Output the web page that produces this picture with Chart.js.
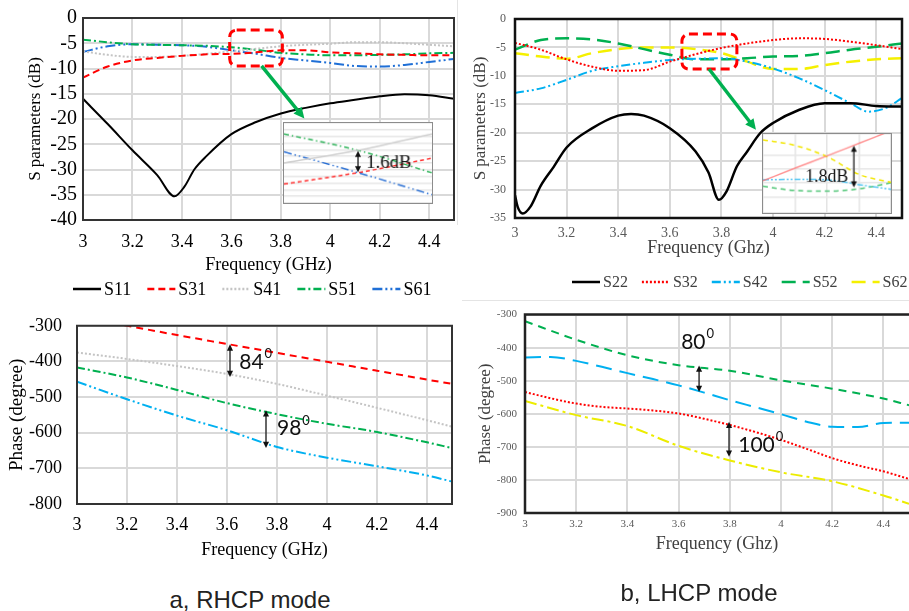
<!DOCTYPE html>
<html>
<head>
<meta charset="utf-8">
<script src="https://cdn.jsdelivr.net/npm/chart.js@4.4.0/dist/chart.umd.min.js"></script>
<style>
  body { margin: 0; background: #fff; width: 909px; height: 611px; position: relative; overflow: hidden; }
  canvas { position: absolute; }
  .inset { background: #fff; border: 1px solid #8c8c8c; }
  .cap { position: absolute; font-family: "Liberation Sans", Arial, sans-serif; font-size: 24px; color: #222;
         transform: translate(-50%, -50%); white-space: nowrap; }
  .sep { position: absolute; background: #e4e4e4; }
</style>
</head>
<body>
<div class="sep" style="left:457px;top:0;width:1px;height:225px"></div>
<div class="sep" style="left:462px;top:300px;width:447px;height:1px"></div>
<canvas id="tl" width="455" height="300" style="left:0;top:0"></canvas>
<canvas id="tr" width="453" height="300" style="left:456px;top:0"></canvas>
<canvas id="bl" width="455" height="280" style="left:0;top:300px"></canvas>
<canvas id="br" width="453" height="280" style="left:456px;top:300px"></canvas>
<canvas id="tlInset" class="inset" width="150" height="82" style="left:283px;top:122px"></canvas>
<canvas id="trInset" class="inset" width="130" height="81" style="left:762px;top:133px"></canvas>
<div class="cap" style="left:250px;top:600px">a, RHCP mode</div>
<div class="cap" style="left:699px;top:593px">b, LHCP mode</div>
<script>
const serif = '"Liberation Serif", "Times New Roman", serif';

// ---------- data ----------
const freq = [3.0, 3.1, 3.2, 3.3, 3.4, 3.5, 3.6, 3.7, 3.8, 3.9, 4.0, 4.1, 4.2, 4.3, 4.4, 4.5];
const freqTicks = [3, 3.2, 3.4, 3.6, 3.8, 4, 4.2, 4.4];

// RHCP, S parameters (dB)
const s11Freq = [3.0, 3.1, 3.2, 3.3, 3.37, 3.41, 3.45, 3.5, 3.6, 3.7, 3.8, 3.9, 4.0, 4.1, 4.2, 4.3, 4.4, 4.5];
const s11 = [-16.0, -21.0, -26.2, -31.1, -35.3, -33.4, -30.0, -27.3, -23.0, -20.6, -18.9, -17.8, -16.9, -16.2, -15.5, -15.1, -15.3, -16.0];
const s31 = [-11.8, -9.6, -8.4, -7.9, -7.5, -7.2, -7.1, -6.8, -6.4, -6.4, -6.8, -7.0, -7.2, -7.3, -7.4, -7.4];
const s41 = [-6.6, -7.3, -7.7, -7.7, -7.5, -7.1, -6.6, -6.1, -5.6, -5.3, -5.1, -4.8, -4.8, -5.0, -5.3, -5.6];
const s51 = [-4.3, -4.8, -5.2, -5.3, -5.4, -5.5, -5.8, -6.3, -6.9, -7.2, -7.4, -7.4, -7.3, -7.2, -7.0, -6.9];
const s61 = [-6.7, -5.6, -5.2, -5.3, -5.4, -5.7, -6.4, -7.1, -7.9, -8.4, -8.9, -9.5, -9.6, -9.3, -8.7, -8.1];
const dbTicksA = [-40, -35, -30, -25, -20, -15, -10, -5, 0];

// LHCP, S parameters (dB)
const s22Freq = [3.0, 3.01, 3.03, 3.06, 3.1, 3.15, 3.2, 3.3, 3.4, 3.45, 3.5, 3.6, 3.7, 3.75, 3.79, 3.82, 3.86, 3.9, 3.95, 4.0, 4.1, 4.2, 4.3, 4.4, 4.5];
const s22 = [-31.0, -33.0, -34.2, -33.0, -29.3, -26.0, -22.6, -19.2, -17.0, -16.7, -17.0, -19.2, -23.3, -27.0, -31.8, -30.3, -25.9, -23.3, -20.1, -18.3, -16.0, -14.8, -14.8, -15.3, -15.4];
const s32 = [-4.2, -5.4, -7.1, -8.4, -9.1, -9.0, -7.5, -6.2, -5.1, -4.3, -3.7, -3.4, -3.5, -4.0, -4.6, -5.3];
const s42Freq = [3.0, 3.1, 3.2, 3.3, 3.4, 3.5, 3.6, 3.7, 3.8, 3.9, 4.0, 4.1, 4.2, 4.3, 4.37, 4.44, 4.5];
const s42 = [-13.0, -12.2, -10.7, -9.1, -8.3, -7.7, -7.2, -7.0, -6.9, -7.5, -8.7, -10.4, -12.5, -14.8, -16.3, -15.6, -13.9];
const s52 = [-5.4, -3.7, -3.4, -3.6, -4.3, -5.3, -6.3, -7.1, -7.1, -6.9, -6.6, -6.5, -6.0, -5.4, -4.9, -4.3];
const s62 = [-6.0, -6.6, -7.0, -6.0, -5.3, -5.0, -5.0, -5.3, -6.0, -7.5, -8.8, -8.8, -8.1, -7.5, -7.1, -6.9];
const dbTicksB = [-35, -30, -25, -20, -15, -10, -5, 0];

// RHCP, phase (degree)
const phFreq = [3.0, 3.2, 3.4, 3.6, 3.8, 4.0, 4.2, 4.4, 4.5];
const p31 = [-278, -300, -326, -351, -376, -401, -426, -451, -463];
const p41 = [-375, -393, -413, -435, -463, -496, -530, -565, -583];
const p51 = [-417, -445, -480, -517, -548, -575, -598, -627, -643];
const p61 = [-457, -506, -552, -593, -640, -670, -694, -720, -737];
const phTicksA = [-800, -700, -600, -500, -400, -300];

// LHCP, phase (degree)
const p52 = [-320, -376, -423, -453, -470, -499, -524, -554, -574];
const p42 = [-430, -428, -440, -458, -477, -495, -514, -536, -559, -580, -601, -624, -639, -640, -628, -627];
const p32 = [-534, -553, -569, -579, -584, -590, -599, -615, -634, -655, -679, -706, -734, -756, -774, -797];
const p62 = [-561, -604, -637, -697, -741, -777, -804, -847, -872];
const phTicksB = [-900, -800, -700, -600, -500, -400, -300];

// zoomed insets (dB)
const insetAFreq = [3.6, 3.7, 3.8];
const insetA41 = [-7.0, -6.05, -4.82];
const insetA51 = [-4.82, -6.05, -7.73];
const insetA61 = [-6.16, -7.72, -9.38];
const insetA31 = [-8.58, -7.72, -6.64];
const insetBFreq = [3.7, 3.75, 3.8, 3.85, 3.9];
const insetB32 = [-6.51, -5.97, -5.44, -4.90, -4.36];
const insetB62 = [-4.75, -4.99, -5.47, -6.24, -6.58];
const insetB42 = [-6.47, -6.45, -6.47, -6.68, -6.88];
const insetB52 = [-6.75, -6.93, -6.96, -6.86, -6.60];

// ---------- helpers ----------
function pts(xs, ys) { return xs.map((x, i) => ({ x: x, y: ys[i] })); }

function series(label, xs, ys, color, dash, width) {
  return { label: label, data: pts(xs, ys), borderColor: color, borderDash: dash, borderWidth: width || 2,
    pointRadius: 0, fill: false, cubicInterpolationMode: 'monotone' };
}

function tickList(list) {
  return scale => { scale.ticks = list.map(v => ({ value: v })); };
}

function head(ctx, x1, y1, x2, y2, size) {
  const a = Math.atan2(y2 - y1, x2 - x1);
  ctx.beginPath();
  ctx.moveTo(x2, y2);
  ctx.lineTo(x2 - size * Math.cos(a - 0.45), y2 - size * Math.sin(a - 0.45));
  ctx.lineTo(x2 - size * Math.cos(a + 0.45), y2 - size * Math.sin(a + 0.45));
  ctx.closePath();
  ctx.fill();
}

// frame, callouts, arrows and legend row; callouts are placed from data coords
function notes(cfg) {
  return {
    id: 'notes',
    afterDatasetsDraw(chart) {
      const { ctx, chartArea: a } = chart;
      if (!cfg.frame) return;
      ctx.save();
      ctx.strokeStyle = cfg.frame.color;
      ctx.lineWidth = cfg.frame.width;
      ctx.beginPath();
      if (cfg.frame.open) {
        ctx.moveTo(a.right + 2, a.top); ctx.lineTo(a.left, a.top);
        ctx.lineTo(a.left, a.bottom); ctx.lineTo(a.right + 2, a.bottom);
      } else {
        ctx.rect(a.left, a.top, a.right - a.left, a.bottom - a.top);
      }
      ctx.stroke();
      ctx.restore();
    },
    afterDraw(chart) {
      const { ctx, scales: { x, y } } = chart;
      ctx.save();
      (cfg.boxes || []).forEach(b => {
        const l = x.getPixelForValue(b.x1), r = x.getPixelForValue(b.x2);
        const t = y.getPixelForValue(b.y1), btm = y.getPixelForValue(b.y2), rad = 7;
        ctx.strokeStyle = '#ff0000'; ctx.lineWidth = 3; ctx.setLineDash([9, 5]);
        ctx.beginPath();
        ctx.moveTo(l + rad, t); ctx.arcTo(r, t, r, btm, rad); ctx.arcTo(r, btm, l, btm, rad);
        ctx.arcTo(l, btm, l, t, rad); ctx.arcTo(l, t, r, t, rad); ctx.closePath();
        ctx.stroke();
        ctx.setLineDash([]);
      });
      (cfg.pointers || []).forEach(p => {
        const x1 = x.getPixelForValue(p.x1), y1 = y.getPixelForValue(p.y1);
        const x2 = x.getPixelForValue(p.x2), y2 = y.getPixelForValue(p.y2);
        ctx.strokeStyle = '#00b050'; ctx.fillStyle = '#00b050'; ctx.lineWidth = 3.5;
        const a = Math.atan2(y2 - y1, x2 - x1);
        ctx.beginPath(); ctx.moveTo(x1, y1); ctx.lineTo(x2 - 8 * Math.cos(a), y2 - 8 * Math.sin(a)); ctx.stroke();
        head(ctx, x1, y1, x2, y2, 12);
      });
      (cfg.arrows || []).forEach(r => {
        const px = x.getPixelForValue(r.x), y1 = y.getPixelForValue(r.y1), y2 = y.getPixelForValue(r.y2);
        ctx.strokeStyle = '#333'; ctx.fillStyle = '#111'; ctx.lineWidth = 1.5;
        ctx.beginPath(); ctx.moveTo(px, y1 + 4); ctx.lineTo(px, y2 - 4); ctx.stroke();
        head(ctx, px, y2, px, y1, 7);
        head(ctx, px, y1, px, y2, 7);
      });
      (cfg.labels || []).forEach(t => {
        const px = x.getPixelForValue(t.x), py = y.getPixelForValue(t.y);
        ctx.fillStyle = '#111'; ctx.textBaseline = 'middle'; ctx.textAlign = 'left';
        ctx.font = t.font;
        ctx.fillText(t.text, px, py);
        if (t.sup) {
          const w = ctx.measureText(t.text).width;
          ctx.font = t.supFont;
          ctx.fillText(t.sup, px + w + 1, py - 8);
        }
      });
      const lg = cfg.legend;
      if (lg) {
        let cx = lg.x;
        ctx.font = lg.size + 'px ' + serif;
        ctx.textBaseline = 'middle'; ctx.textAlign = 'left';
        chart.data.datasets.forEach(d => {
          ctx.strokeStyle = d.borderColor; ctx.lineWidth = 2.5; ctx.setLineDash(d.borderDash || []);
          ctx.beginPath(); ctx.moveTo(cx, lg.y); ctx.lineTo(cx + lg.line, lg.y); ctx.stroke();
          ctx.setLineDash([]);
          cx += lg.line + lg.gap;
          ctx.fillStyle = lg.color;
          ctx.fillText(d.label, cx, lg.y + 1);
          cx += ctx.measureText(d.label).width + lg.itemGap;
        });
      }
      ctx.restore();
    }
  };
}

function axes(o) {
  return {
    x: {
      type: 'linear', min: 3, max: 4.5,
      afterBuildTicks: tickList(freqTicks),
      afterFit: s => { s.height = o.xh; },
      grid: { color: '#d9d9d9', lineWidth: 2, drawTicks: false },
      border: { display: false },
      ticks: { autoSkip: false, maxRotation: 0, padding: o.xpad, color: o.tickColor,
               font: { family: serif, size: o.xfont }, callback: v => String(v) },
      title: { display: true, text: o.xtitle, color: o.titleColor,
               font: { family: serif, size: o.xtfont }, padding: { top: 0, bottom: o.xtpad } }
    },
    y: {
      min: o.ymin, max: o.ymax,
      afterBuildTicks: tickList(o.yticks),
      afterFit: s => { s.width = o.yw; },
      grid: { color: '#d9d9d9', lineWidth: 2, drawTicks: false },
      border: { display: false },
      ticks: { autoSkip: false, padding: o.ypad, color: o.tickColor,
               font: { family: serif, size: o.yfont }, callback: v => String(v) },
      title: { display: true, text: o.ytitle, color: o.titleColor,
               font: { family: serif, size: o.ytfont }, padding: { top: o.ytpad, bottom: 0 } }
    }
  };
}

function baseOptions(padding, scales) {
  return {
    responsive: false, animation: false, events: [],
    layout: { padding: padding },
    plugins: { legend: { display: false }, tooltip: { enabled: false } },
    scales: scales
  };
}

const supFontA = '13px Lato, "Open Sans", sans-serif';
const bigFontA = '21px Lato, "Open Sans", sans-serif';

// ---------- a: S parameters ----------
new Chart(document.getElementById('tl'), {
  type: 'line',
  data: { datasets: [
    series('S11', s11Freq, s11, '#000000', [], 2),
    series('S31', freq, s31, '#ff0000', [7, 4], 2),
    series('S41', freq, s41, '#c4c4c4', [2, 2], 2),
    series('S51', freq, s51, '#00b050', [8, 3, 2, 3], 2),
    series('S61', freq, s61, '#1f6fd6', [10, 3, 2, 3, 2, 3], 2)
  ] },
  options: baseOptions({ top: 17, right: 1, left: 0, bottom: 0 }, axes({
    xh: 80, xpad: 11, xfont: 18, xtitle: 'Frequency (GHz)', xtfont: 18, xtpad: 24,
    ymin: -40, ymax: 0, yticks: dbTicksA, yw: 83, ypad: 6, yfont: 20,
    ytitle: 'S parameters (dB)', ytfont: 17, ytpad: 25, tickColor: '#000', titleColor: '#000'
  })),
  plugins: [notes({
    frame: { color: '#333', width: 2 },
    boxes: [{ x1: 3.593, x2: 3.806, y1: -2.4, y2: -9.5 }],
    pointers: [{ x1: 3.722, y1: -9.5, x2: 3.895, y2: -19.9 }],
    legend: { x: 73, y: 289, size: 18, color: '#000', line: 28, gap: 3, itemGap: 16 }
  })]
});

// ---------- b: S parameters ----------
new Chart(document.getElementById('tr'), {
  type: 'line',
  data: { datasets: [
    series('S22', s22Freq, s22, '#000000', [], 2.5),
    series('S32', freq, s32, '#ff0000', [2, 2], 2),
    series('S42', s42Freq, s42, '#00b0f0', [9, 3, 2, 3, 2, 3], 2),
    series('S52', freq, s52, '#00b050', [14, 7], 2.5),
    series('S62', freq, s62, '#f5f000', [14, 7], 2.5)
  ] },
  options: baseOptions({ top: 19, right: 7, left: 0, bottom: 0 }, axes({
    xh: 82, xpad: 7, xfont: 14, xtitle: 'Frequency (Ghz)', xtfont: 18, xtpad: 41,
    ymin: -35, ymax: 0, yticks: dbTicksB, yw: 59, ypad: 9, yfont: 12,
    ytitle: 'S parameters (dB)', ytfont: 17, ytpad: 14, tickColor: '#595959', titleColor: '#404040'
  })),
  plugins: [notes({
    frame: { color: '#111', width: 2.5 },
    boxes: [{ x1: 3.647, x2: 3.86, y1: -2.65, y2: -8.8 }],
    pointers: [{ x1: 3.752, y1: -8.8, x2: 3.934, y2: -19.5 }],
    legend: { x: 116, y: 282, size: 16, color: '#404040', line: 28, gap: 3, itemGap: 14 }
  })]
});

// ---------- a: phase ----------
new Chart(document.getElementById('bl'), {
  type: 'line',
  data: { datasets: [
    series('S31', phFreq, p31, '#ff0000', [7, 5], 2),
    series('S41', phFreq, p41, '#c4c4c4', [2, 2], 2),
    series('S51', phFreq, p51, '#00b050', [8, 3, 2, 3], 2),
    series('S61', phFreq, p61, '#00b0f0', [10, 3, 2, 3, 2, 3], 2)
  ] },
  options: baseOptions({ top: 13, right: 3, left: 0, bottom: 0 }, axes({
    xh: 76, xpad: 10, xfont: 18, xtitle: 'Frequency (GHz)', xtfont: 18, xtpad: 19,
    ymin: -800, ymax: -300, yticks: phTicksA, yw: 77, ypad: 15, yfont: 18,
    ytitle: 'Phase (degree)', ytfont: 19, ytpad: 6, tickColor: '#000', titleColor: '#000'
  })),
  plugins: [notes({
    frame: { color: '#333', width: 2 },
    arrows: [{ x: 3.612, y1: -352, y2: -444 }, { x: 3.756, y1: -537, y2: -643 }],
    labels: [
      { x: 3.649, y: -401, text: '84', sup: '0', font: bigFontA, supFont: supFontA },
      { x: 3.80, y: -588, text: '98', sup: '0', font: bigFontA, supFont: supFontA }
    ]
  })]
});

// ---------- b: phase ----------
new Chart(document.getElementById('br'), {
  type: 'line',
  data: { datasets: [
    series('S52', phFreq, p52, '#00b050', [8, 6], 2),
    series('S42', freq, p42, '#00b0f0', [16, 8], 2),
    series('S32', freq, p32, '#ff0000', [2, 2], 2),
    series('S62', phFreq, p62, '#ecec00', [12, 4, 3, 4], 2)
  ] },
  options: baseOptions({ top: 14, right: 0, left: 0, bottom: 0 }, axes({
    xh: 67, xpad: 5, xfont: 11, xtitle: 'Frequency (Ghz)', xtfont: 18, xtpad: 25,
    ymin: -900, ymax: -300, yticks: phTicksB, yw: 69, ypad: 8, yfont: 11,
    ytitle: 'Phase (degree)', ytfont: 17, ytpad: 19, tickColor: '#595959', titleColor: '#404040'
  })),
  plugins: [notes({
    frame: { color: '#222', width: 2.5, open: true },
    arrows: [{ x: 3.68, y1: -454, y2: -534 }, { x: 3.797, y1: -624, y2: -730 }],
    labels: [
      { x: 3.61, y: -383, text: '80', sup: '0', font: bigFontA, supFont: supFontA },
      { x: 3.833, y: -695, text: '100', sup: '0', font: bigFontA, supFont: supFontA }
    ]
  })]
});

// ---------- insets ----------
function insetScales(xmin, xmax, ymin, ymax, step, xgrid) {
  return {
    x: { type: 'linear', min: xmin, max: xmax, display: xgrid,
         afterFit: s => { s.height = 0; },
         grid: { color: '#e3e3e3', lineWidth: 1.5, drawTicks: false }, border: { display: false },
         ticks: { display: false, stepSize: (xmax - xmin) / 4 } },
    y: { min: ymin, max: ymax, afterFit: s => { s.width = 0; },
         grid: { color: '#e6e6e6', lineWidth: 1.5, drawTicks: false }, border: { display: false },
         ticks: { display: false, stepSize: step } }
  };
}

new Chart(document.getElementById('tlInset'), {
  type: 'line',
  data: { datasets: [
    series('S41', insetAFreq, insetA41, '#cfcfcf', [], 1.5),
    series('S51', insetAFreq, insetA51, '#2fb35a', [5, 3, 1.5, 3], 1.5),
    series('S61', insetAFreq, insetA61, '#2a6fd3', [8, 3, 1.5, 3, 1.5, 3], 1.5),
    series('S31', insetAFreq, insetA31, '#ff2a2a', [4, 3], 1.5)
  ] },
  options: baseOptions(0, insetScales(3.6, 3.8, -10, -4, 0.5, false)),
  plugins: [notes({
    arrows: [{ x: 3.7, y1: -6.09, y2: -7.69 }],
    labels: [{ x: 3.711, y: -6.98, text: '1.6dB', font: '19px ' + serif }]
  })]
});

new Chart(document.getElementById('trInset'), {
  type: 'line',
  data: { datasets: [
    series('S32', insetBFreq, insetB32, 'rgba(255,110,110,0.75)', [], 1.5),
    series('S62', insetBFreq, insetB62, '#f2e600', [5, 4], 1.5),
    series('S42', insetBFreq, insetB42, '#55c6f2', [6, 2, 2, 2, 2, 2], 1.5),
    series('S52', insetBFreq, insetB52, '#4cc473', [5, 4], 1.5)
  ] },
  options: baseOptions(0, insetScales(3.7, 3.9, -7.9, -4.5, 0.6, true)),
  plugins: [notes({
    arrows: [{ x: 3.842, y1: -5.0, y2: -6.8 }],
    labels: [{ x: 3.766, y: -6.37, text: '1.8dB', font: '18px ' + serif }]
  })]
});
</script>
</body>
</html>
